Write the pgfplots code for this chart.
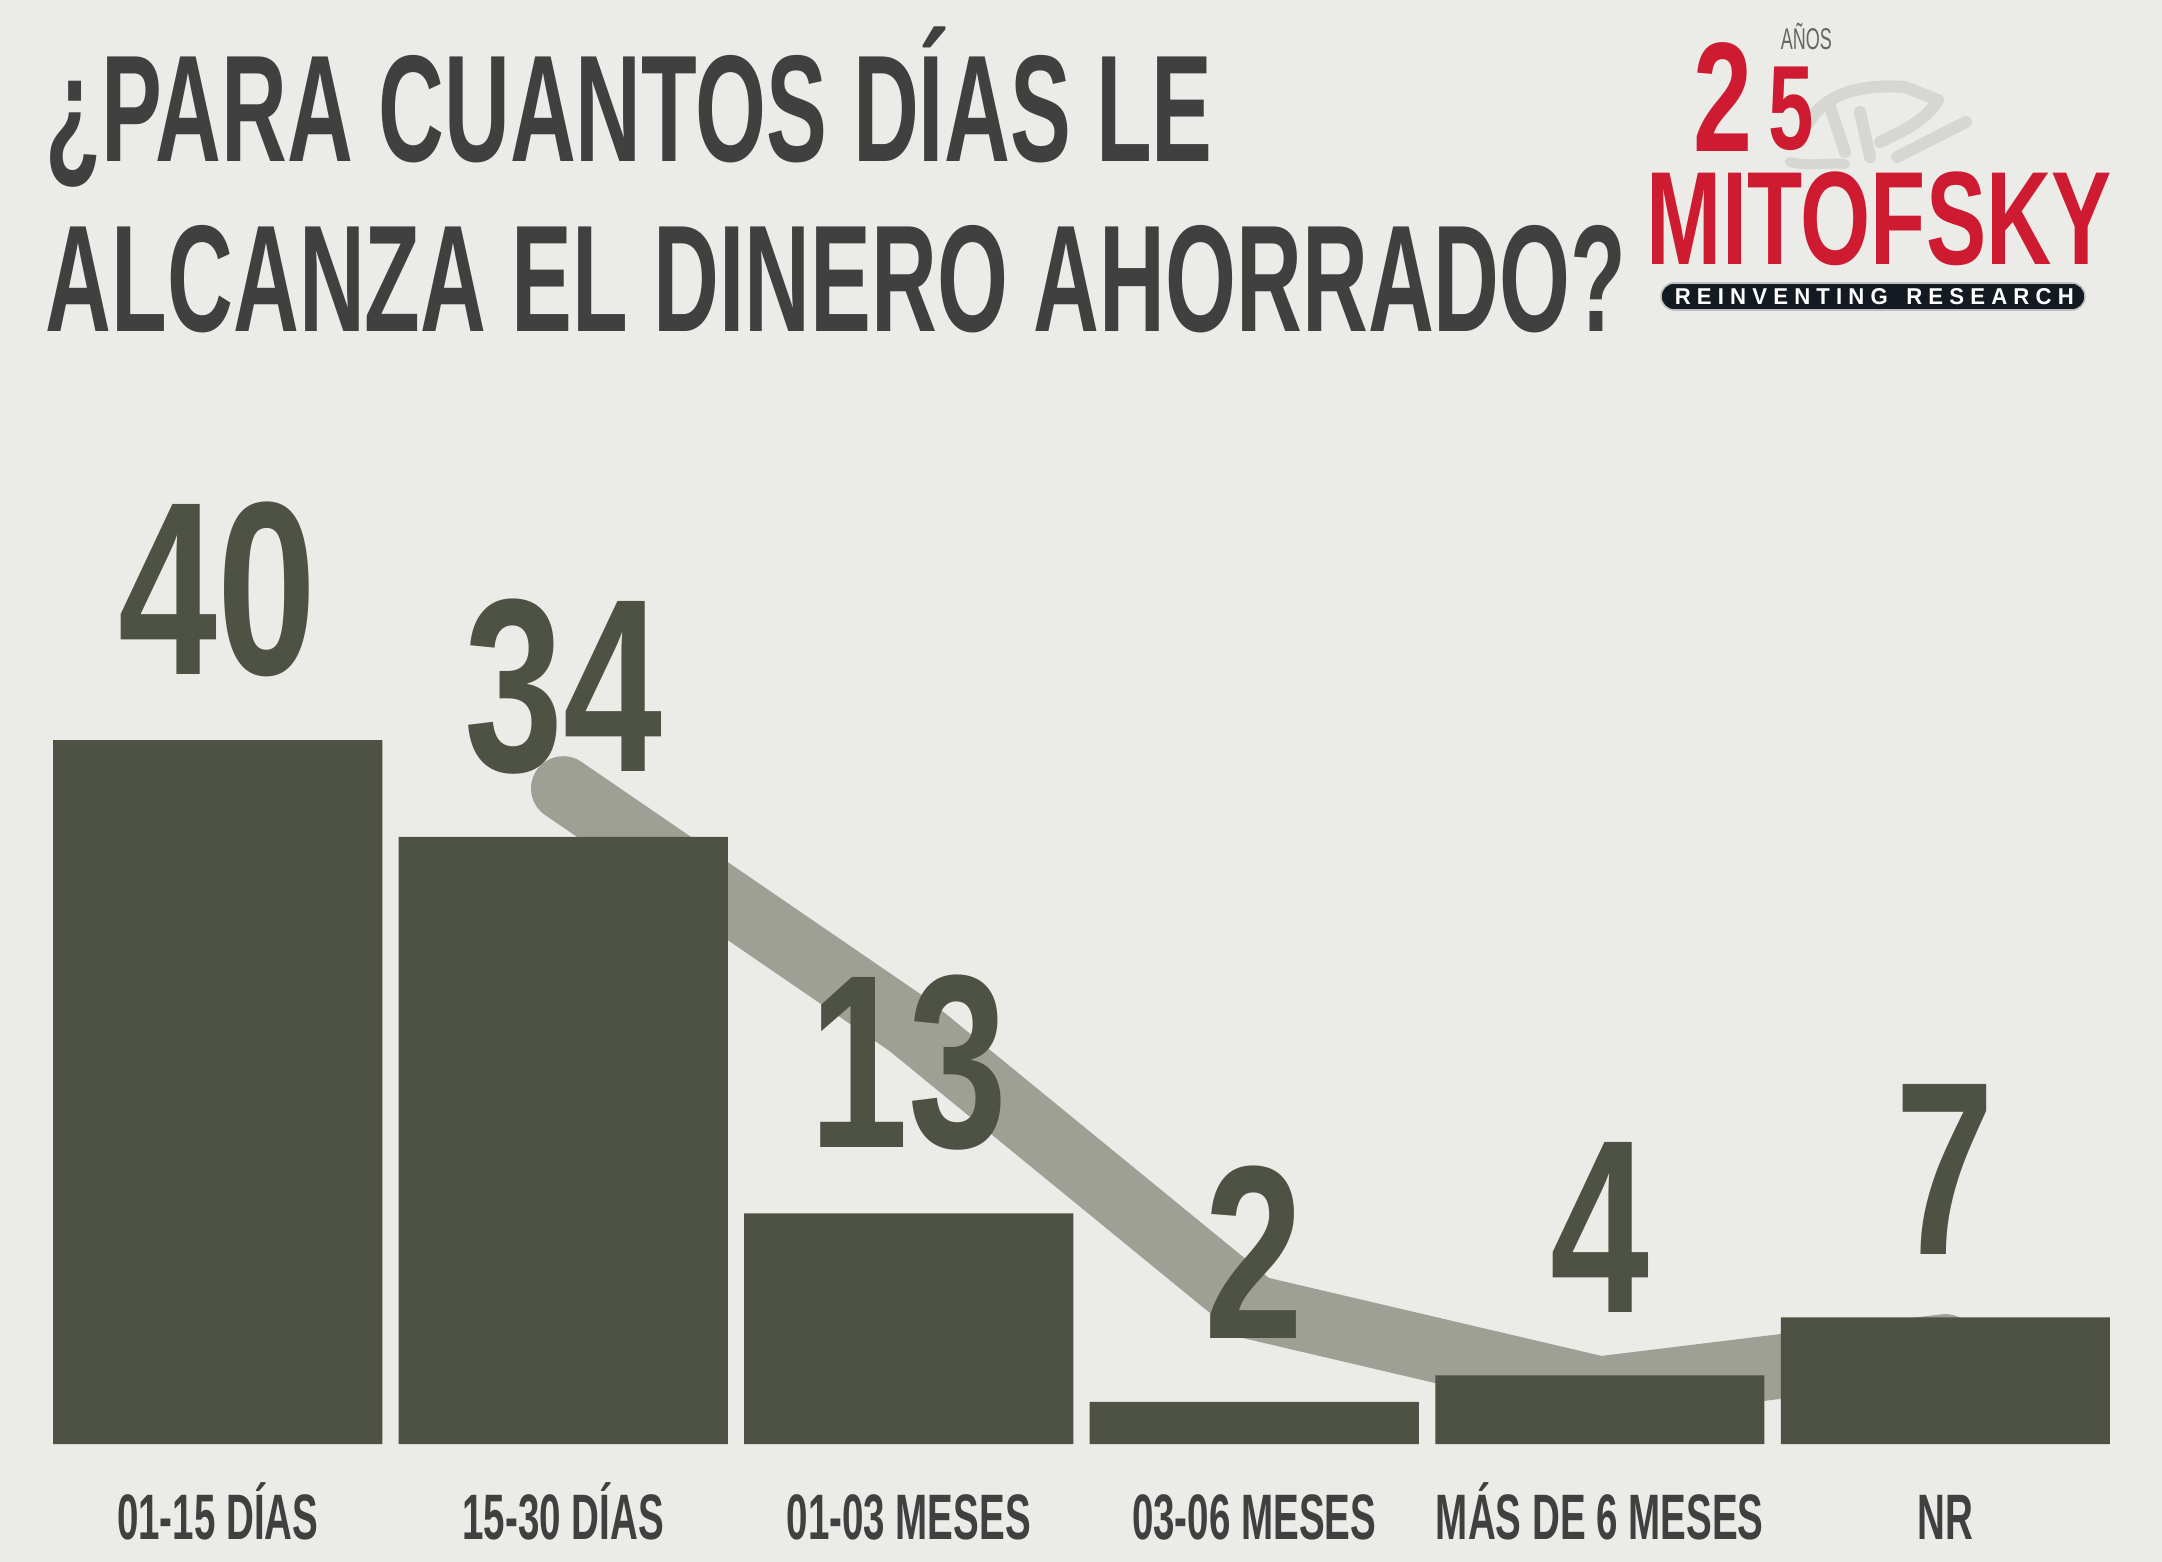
\documentclass[border=0pt]{standalone}
\usepackage{pgfplots}
\pgfplotsset{compat=1.18}
\usepackage{fontspec}
\setmainfont{Liberation Sans}
\newfontfamily\condf{Liberation Sans}[FakeStretch=0.6]
\newfontfamily\numf{Liberation Sans}[FakeStretch=0.72]
\newfontfamily\logof{Liberation Sans}[FakeStretch=0.68]
\definecolor{bgc}{HTML}{EBECE7}
\definecolor{barc}{HTML}{4D5244}
\definecolor{linec}{HTML}{9EA096}
\definecolor{txtc}{HTML}{404040}
\definecolor{logored}{HTML}{CE1B31}
\definecolor{scrib}{HTML}{D6D6D2}
\definecolor{pillc}{HTML}{141A22}
\begin{document}
\begin{tikzpicture}
\fill[bgc] (0,0) rectangle (540.5pt,390.5pt);
\begin{scope}[x=0.25pt,y=0.25pt]
% title
\node[anchor=base west, inner sep=0pt, text=txtc, font=\condf\bfseries\fontsize{38}{38}\selectfont] at (45,1400) {¿PARA CUANTOS DÍAS LE};
\node[anchor=base west, inner sep=0pt, text=txtc, font=\condf\bfseries\fontsize{38}{38}\selectfont] at (45,1230) {ALCANZA EL DINERO AHORRADO?};
% logo scribbles
\draw[scrib, line width=3pt, line cap=round, line join=round]
  (1800,1420) .. controls (1815,1470) and (1860,1478) .. (1905,1475) -- (1938,1462) .. controls (1925,1440) and (1900,1430) .. (1880,1420);
\draw[scrib, line width=3pt, line cap=round, line join=round]
  (1830,1455) -- (1845,1410) (1860,1450) -- (1870,1405) (1897,1405) -- (1966,1440);
\draw[scrib, line width=2.5pt, line cap=round] (1790,1400) .. controls (1810,1395) and (1830,1400) .. (1845,1398);
% logo 25
\node[anchor=base west, inner sep=0pt, text=logored, font=\logof\bfseries\fontsize{39}{39}\selectfont] at (1693,1410) {2};
\node[anchor=base west, inner sep=0pt, text=logored, font=\logof\bfseries\fontsize{30}{30}\selectfont] at (1768,1412) {5};
\node[anchor=base west, inner sep=0pt, text=black!60, font=\condf\fontsize{7.5}{7.5}\selectfont] at (1780,1512) {AÑOS};
% MITOFSKY
\node[anchor=base west, inner sep=0pt, text=logored, font=\logof\bfseries\fontsize{33.2}{33.2}\selectfont] at (1646,1297) {MITOFSKY};
\filldraw[fill=pillc, draw=black!25, line width=0.4pt, rounded corners=3.3pt] (1661,1252) rectangle (2085,1279);
\node[anchor=base west, inner sep=0pt, text=white] at (1674,1257) {\resizebox{99.75pt}{4pt}{\bfseries R E I N V E N T I N G\ \ \ R E S E A R C H}};
\end{scope}
\begin{axis}[
  at={(11.25pt,29.5pt)}, anchor=south west,
  scale only axis, width=518.25pt, height=176pt,
  xmin=-0.5, xmax=5.5, ymin=0, ymax=40,
  axis line style={draw=none}, tick style={draw=none}, major tick length=0pt,
  ytick=\empty, xtick={0,1,2,3,4,5},
  xticklabels={01-15 DÍAS, 15-30 DÍAS, 01-03 MESES, 03-06 MESES, MÁS DE 6 MESES, NR},
  xticklabel style={font=\condf\bfseries\fontsize{16.06}{16.06}\selectfont, text=txtc, anchor=base, yshift=-23.75pt},
  /pgf/number format/assume math mode=true,
  clip=false,
]
% trend line (2-period moving average)
\addplot[sharp plot, color=linec, line width=16.1pt, line cap=round, line join=miter, mark=none]
  coordinates {(1,37.25) (2,23.8) (3,7.75) (4,3.15) (5,5.55)};
\addplot[ybar, bar width=82.25pt, fill=barc, draw=none,
  point meta=explicit,
  nodes near coords,
  every node near coord/.append style={anchor=south, yshift=15.5pt, inner sep=0pt, text=barc, font=\numf\bfseries\fontsize{61.8}{61.8}\selectfont}]
  coordinates {(0,40) [40] (1,34.5) [34] (2,13.1) [13] (3,2.4) [2] (4,3.9) [4] (5,7.2) [7]};
\end{axis}
\pgfresetboundingbox
\path[use as bounding box] (0,0) rectangle (540.5pt,390.5pt);
\end{tikzpicture}
\end{document}
